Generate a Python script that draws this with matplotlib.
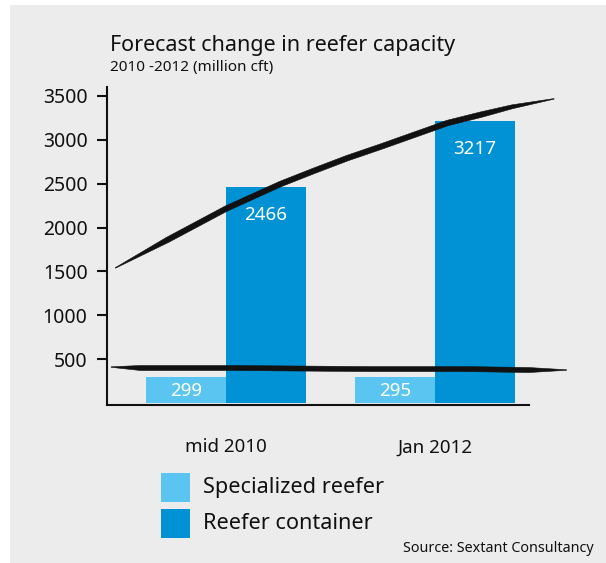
import numpy as np
import matplotlib
matplotlib.use("Agg")
import matplotlib.pyplot as plt
from matplotlib.patches import Rectangle
from matplotlib.transforms import ScaledTranslation

# data
periods = ["mid 2010", "Jan 2012"]
specialized = [299, 295]
container = [2466, 3217]
series_names = ["Specialized reefer", "Reefer container"]
yticks = [500, 1000, 1500, 2000, 2500, 3000, 3500]

# decorative brush strokes (x in group units, y in million cft)
trend_x = [-0.53, -0.28, 0.0, 0.26, 0.42, 0.58, 0.74, 0.90, 1.06, 1.22, 1.37, 1.57]
trend_y = [1540, 1860, 2215, 2495, 2645, 2790, 2920, 3055, 3190, 3285, 3375, 3465]
flat_x = [-0.55, -0.41, 0.03, 0.68, 1.15, 1.45, 1.63]
flat_y = [412, 401, 401, 389, 389, 378, 378]

light = "#5bc5f2"
dark = "#0092d5"
bg = "#ececec"
ink = "#111111"
font = "Noto Sans"

fig = plt.figure(figsize=(6.06, 5.63), dpi=100)
fig.patch.set_facecolor("white")
fig.patches.append(Rectangle((10 / 606, 0), 1, 1 - 5 / 563, transform=fig.transFigure,
                             facecolor=bg, edgecolor="none", zorder=-10))

ax = fig.add_axes([107 / 606, 1 - 405 / 563, 422 / 606, 318 / 563])
ax.set_facecolor("none")
ax.set_xlim(-0.57, 1.45)
ax.set_ylim(-20, 3600)

x = np.arange(len(periods))
w = 0.383
b1 = ax.bar(x - w / 2, specialized, w, color=light, zorder=2)
b2 = ax.bar(x + w / 2, container, w, color=dark, zorder=2)

# value labels inside the bars
for bars, vals, off in [(b1, specialized, 14), (b2, container, 28)]:
    for r, v in zip(bars, vals):
        ax.text(r.get_x() + r.get_width() / 2, v, str(v), ha="center", va="center",
                color="white", fontsize=13.5, family=font,
                transform=ax.transData + ScaledTranslation(0, -off / 100, fig.dpi_scale_trans),
                zorder=4)

def brush(xs, ys, width_px, taper_px):
    # filled outline that is thin at both ends, like a brush stroke
    pts = ax.transData.transform(np.column_stack([xs, ys]))
    tang = np.gradient(pts, axis=0)
    tang /= np.hypot(tang[:, 0], tang[:, 1])[:, None]
    nrm = np.column_stack([-tang[:, 1], tang[:, 0]])
    s = np.concatenate([[0], np.cumsum(np.hypot(*np.diff(pts, axis=0).T))])
    hw = width_px / 2 * np.clip(np.minimum(s, s[-1] - s) / taper_px, 0.1, 1)
    poly = np.vstack([pts + nrm * hw[:, None], (pts - nrm * hw[:, None])[::-1]])
    poly = ax.transData.inverted().transform(poly)
    ax.fill(poly[:, 0], poly[:, 1], color=ink, lw=0.4, zorder=5, clip_on=False)

brush(trend_x, trend_y, 5.5, 60)
brush(flat_x, flat_y, 5.0, 28)

ax.set_yticks(yticks)
ax.set_xticks(x)
ax.set_xticklabels(periods)
for s in ["top", "right"]:
    ax.spines[s].set_visible(False)
for s in ["left", "bottom"]:
    ax.spines[s].set_linewidth(1.5)
    ax.spines[s].set_color(ink)
ax.tick_params(axis="y", length=7, width=1.5, pad=7, labelsize=14, color=ink)
ax.tick_params(axis="x", length=0, pad=24, labelsize=13.5)
for lab in ax.get_xticklabels() + ax.get_yticklabels():
    lab.set_family(font)
    lab.set_color(ink)

fig.text(110 / 606, 1 - 46 / 563, "Forecast change in reefer capacity", fontsize=15.5,
         family=font, va="center", ha="left", color=ink)
fig.text(110 / 606, 1 - 68 / 563, "2010 -2012 (million cft)", fontsize=11,
         family=font, va="center", ha="left", color=ink)

# legend
for i, (name, col) in enumerate(zip(series_names, [light, dark])):
    top = 473 + 36 * i
    fig.patches.append(Rectangle((161 / 606, 1 - (top + 29) / 563), 29 / 606, 29 / 563,
                                 transform=fig.transFigure, facecolor=col, edgecolor="none"))
    fig.text(203 / 606, 1 - (top + 14.5) / 563, name, fontsize=15.6, family=font,
             va="center", ha="left", color=ink)

fig.text(594 / 606, 1 - 548 / 563, "Source: Sextant Consultancy", fontsize=10.3,
         family=font, va="center", ha="right", color=ink)

fig.savefig("out.png", dpi=100, facecolor=fig.get_facecolor())
